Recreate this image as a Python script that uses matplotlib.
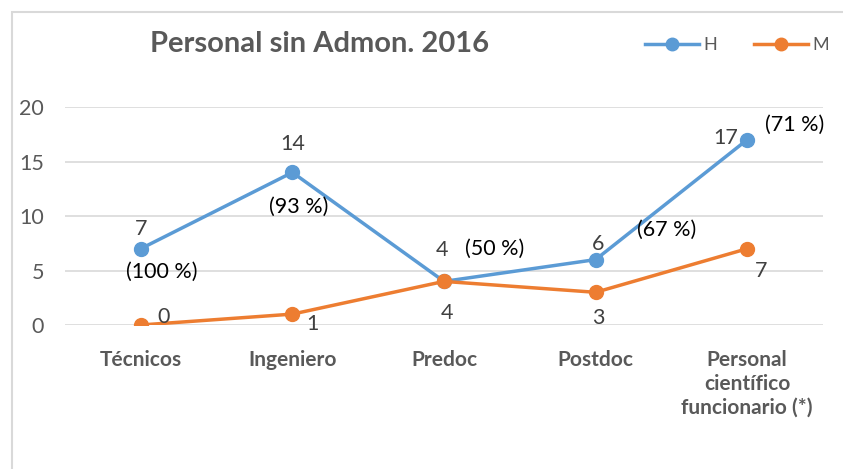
import matplotlib
matplotlib.use("Agg")
import matplotlib.pyplot as plt
from matplotlib.lines import Line2D
from matplotlib.patches import Rectangle

categorias = ["Técnicos", "Ingeniero", "Predoc", "Postdoc", "Personal\ncientífico\nfuncionario (*)"]
hombres = [7, 14, 4, 6, 17]
mujeres = [0, 1, 4, 3, 7]
porcentajes = ["(100 %)", "(93 %)", "(50 %)", "(67 %)", "(71 %)"]
yticks = [0, 5, 10, 15, 20]

azul = "#5B9BD5"
naranja = "#ED7D31"
gris = "#595959"
texto = "#404040"

plt.rcParams["font.family"] = ["Lato", "DejaVu Sans"]

fig = plt.figure(figsize=(8.43, 4.69), dpi=100)
ax = fig.add_axes([65/843, 1-325/469, 758/843, 218/469])

x = list(range(len(categorias)))
ax.plot(x, hombres, color=azul, lw=2.5, marker="o", markersize=10, zorder=3)
ax.plot(x, mujeres, color=naranja, lw=2.5, marker="o", markersize=10, zorder=3)

ax.set_xlim(-0.5, 4.5)
ax.set_ylim(0, 20)
ax.set_yticks(yticks)
ax.set_xticks(x)
ax.set_xticklabels(categorias, fontsize=15, fontweight="bold", color=gris, linespacing=1.25)
ax.tick_params(axis="y", length=0, pad=15, labelsize=15.5, labelcolor=gris)
ax.tick_params(axis="x", length=0, pad=18)
ax.grid(axis="y", color="#D9D9D9", lw=1.2)
ax.set_axisbelow(True)
for s in ax.spines.values():
    s.set_visible(False)

# offsets (pixels) de las etiquetas
off_h = [(0, 20), (0, 28), (-2, 31), (2, 16), (-21, 2)]
off_p = [(21, -23), (6, -34), (51, 33), (71, 30), (47, 15)]
off_m = [(23, 8), (20, -10), (3, -32), (3, -26), (14, -22)]

for i in x:
    ax.annotate(str(hombres[i]), (i, hombres[i]), xytext=off_h[i], textcoords="offset pixels",
                ha="center", va="center", fontsize=15.5, color=texto)
    ax.annotate(porcentajes[i], (i, hombres[i]), xytext=off_p[i], textcoords="offset pixels",
                ha="center", va="center", fontsize=15.5, color="black")
    ax.annotate(str(mujeres[i]), (i, mujeres[i]), xytext=off_m[i], textcoords="offset pixels",
                ha="center", va="center", fontsize=15.5, color=texto)

fig.text(320/843, 1-44/469, "Personal sin Admon. 2016", ha="center", va="center",
         fontsize=21, fontweight="bold", color=gris)

handles = [Line2D([], [], color=azul, lw=2.5, marker="o", markersize=9),
           Line2D([], [], color=naranja, lw=2.5, marker="o", markersize=9)]
fig.legend(handles, ["H", "M"], loc="center", bbox_to_anchor=(737/843, 1-45/469), ncol=2,
           frameon=False, handlelength=3.0, columnspacing=2.0, handletextpad=0.25,
           borderpad=0, prop={"size": 13}, labelcolor=gris)

fig.patches.append(Rectangle((12/843, -0.1), 1.0, 1.1 - 12/469, transform=fig.transFigure,
                             fill=False, edgecolor="#D9D9D9", lw=1.5))

fig.savefig("out.png", dpi=100)
